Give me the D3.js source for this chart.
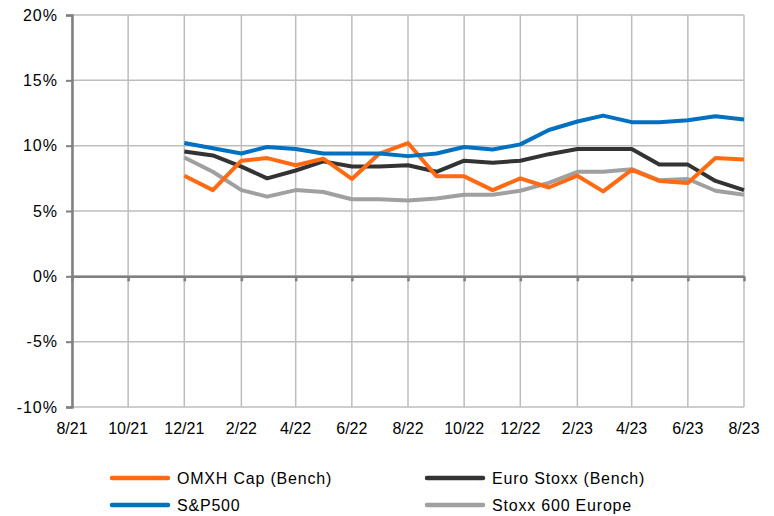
<!DOCTYPE html>
<html>
<head>
<meta charset="utf-8">
<script src="https://cdn.jsdelivr.net/npm/d3@7"></script>
<style>
body { margin: 0; background: #fff; }
text { font-family: "Liberation Sans", Arial, sans-serif; fill: #000; }
</style>
</head>
<body>
<div id="chart"></div>
<script>
var width = 774;
var height = 516;

// Data (monthly, 12/21 - 8/23)
var months = ["12/21","1/22","2/22","3/22","4/22","5/22","6/22","7/22","8/22","9/22","10/22","11/22",
  "12/22","1/23","2/23","3/23","4/23","5/23","6/23","7/23","8/23"];
var omxh = [7.7, 6.6, 8.85, 9.05, 8.5, 9.0, 7.45, 9.4, 10.2, 7.65, 7.65, 6.6, 7.5, 6.8, 7.7, 6.5, 8.15, 7.3, 7.15, 9.05, 8.95];
var euroStoxx = [9.55, 9.25, 8.4, 7.5, 8.1, 8.8, 8.4, 8.4, 8.5, 8.0, 8.85, 8.7, 8.85, 9.35, 9.75, 9.75, 9.75, 8.55, 8.55, 7.3, 6.6];
var sp500 = [10.2, 9.8, 9.4, 9.9, 9.75, 9.4, 9.4, 9.4, 9.2, 9.4, 9.9, 9.7, 10.1, 11.2, 11.85, 12.3, 11.8, 11.8, 11.95, 12.25, 12.0];
var stoxx600 = [9.1, 8.0, 6.6, 6.1, 6.6, 6.45, 5.9, 5.9, 5.8, 5.95, 6.25, 6.25, 6.55, 7.15, 8.0, 8.0, 8.2, 7.35, 7.45, 6.55, 6.25];
var tickLabels = ["8/21","10/21","12/21","2/22","4/22","6/22","8/22","10/22","12/22","2/23","4/23","6/23","8/23"];
var yTicks = [-10, -5, 0, 5, 10, 15, 20];

var series = [
  {name: "OMXH Cap (Bench)", values: omxh, color: "#FF6A13"},
  {name: "Euro Stoxx (Bench)", values: euroStoxx, color: "#333333"},
  {name: "S&P500", values: sp500, color: "#0070C0"},
  {name: "Stoxx 600 Europe", values: stoxx600, color: "#A0A0A0"}
];

var parseMonth = d3.timeParse("%m/%y");

var svg = d3.select("#chart")
  .append("svg")
  .attr("width", width)
  .attr("height", height);

var x = d3.scaleTime()
  .domain([parseMonth(tickLabels[0]), parseMonth(tickLabels[tickLabels.length - 1])])
  .range([72, 744]);
var y = d3.scaleLinear()
  .domain([-10, 20])
  .range([407, 15]);

// grid
svg.append("g")
  .selectAll("line.h")
  .data(yTicks)
  .enter().append("line")
  .attr("x1", x.range()[0]).attr("x2", x.range()[1])
  .attr("y1", function(d) { return y(d); })
  .attr("y2", function(d) { return y(d); })
  .attr("stroke", "#BDBDBD")
  .attr("stroke-width", 1.5);

svg.append("g")
  .selectAll("line.v")
  .data(tickLabels)
  .enter().append("line")
  .attr("x1", function(d) { return x(parseMonth(d)); })
  .attr("x2", function(d) { return x(parseMonth(d)); })
  .attr("y1", y(20)).attr("y2", y(-10))
  .attr("stroke", "#BDBDBD")
  .attr("stroke-width", 1.5);

// y axis
var yAxis = svg.append("g")
  .attr("transform", "translate(72,0)")
  .call(d3.axisLeft(y).tickValues(yTicks).tickSize(6).tickPadding(8)
    .tickFormat(function(d) { return d + "%"; }));
yAxis.select(".domain").attr("stroke", "#808080").attr("stroke-width", 2.5);
yAxis.selectAll(".tick line").attr("stroke", "#808080").attr("stroke-width", 2);
yAxis.selectAll("text").attr("font-size", 16).attr("fill", "#000")
  .attr("letter-spacing", 1)
  .style("font-family", "'Liberation Sans', Arial, sans-serif");

// x axis at 0%
var xAxis = svg.append("g")
  .attr("transform", "translate(0," + y(0) + ")")
  .call(d3.axisBottom(x).tickValues(tickLabels.map(parseMonth)).tickSize(5).tickSizeOuter(0)
    .tickFormat(""));
xAxis.select(".domain").attr("stroke", "#808080").attr("stroke-width", 2.5);
xAxis.selectAll(".tick line").attr("stroke", "#808080").attr("stroke-width", 2.5);

// x labels at the bottom
svg.append("g")
  .selectAll("text")
  .data(tickLabels)
  .enter().append("text")
  .attr("x", function(d) { return x(parseMonth(d)); })
  .attr("y", 434)
  .attr("text-anchor", "middle")
  .attr("font-size", 16)
  .text(function(d) { return d; });

// lines
var line = d3.line()
  .x(function(d, i) { return x(parseMonth(months[i])); })
  .y(function(d) { return y(d); });

svg.append("g")
  .selectAll("path")
  .data([series[3], series[1], series[0], series[2]])
  .enter().append("path")
  .attr("d", function(d) { return line(d.values); })
  .attr("fill", "none")
  .attr("stroke", function(d) { return d.color; })
  .attr("stroke-width", 4)
  .attr("stroke-linejoin", "round");

// legend
var legendPos = [[110, 478], [425, 478], [110, 505], [425, 505]];
var legend = svg.append("g")
  .selectAll("g")
  .data(series)
  .enter().append("g")
  .attr("transform", function(d, i) { return "translate(" + legendPos[i][0] + "," + legendPos[i][1] + ")"; });
legend.append("line")
  .attr("x1", 2).attr("x2", 58)
  .attr("stroke", function(d) { return d.color; })
  .attr("stroke-width", 4.5)
  .attr("stroke-linecap", "round");
legend.append("text")
  .attr("x", 67)
  .attr("y", 6)
  .attr("font-size", 16)
  .attr("letter-spacing", 0.8)
  .text(function(d) { return d.name; });
</script>
</body>
</html>
